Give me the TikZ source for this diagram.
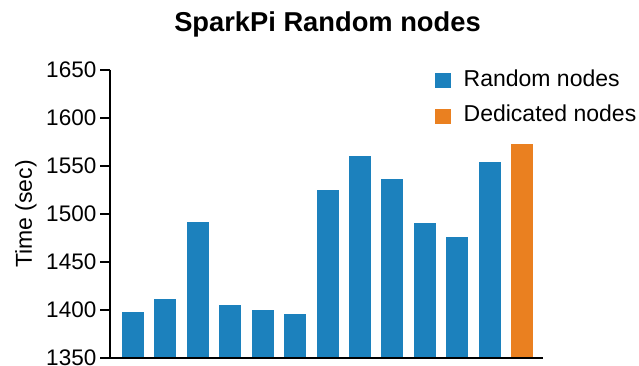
\documentclass[tikz,border=0pt]{standalone}
\usepackage{fontspec}
\setmainfont{Liberation Sans}
\definecolor{barblue}{RGB}{28,129,189}
\definecolor{barorange}{RGB}{234,128,32}
\begin{document}
\begin{tikzpicture}[x=1pt,y=-1pt,
  axisline/.style={line width=1.3pt,black},
  ticklabel/.style={anchor=east,inner sep=0pt,font=\fontsize{22.5}{25}\selectfont},
  labeltext/.style={inner sep=0pt,font=\fontsize{23}{26}\selectfont},
  titletext/.style={inner sep=0pt,font=\fontsize{27.3}{31}\selectfont\bfseries},
  bluebar/.style={fill=barblue,draw=none},
  orangebar/.style={fill=barorange,draw=none}]
\useasboundingbox (0,0) rectangle (639,366);
% title
\node[titletext,anchor=base] (title) at (327.5,31.7) {SparkPi Random nodes};
% bars
\foreach \v [count=\i from 0] in {1398,1411.5,1492,1405.5,1400,1396,1525,1560,1536,1491,1476,1554.5} {
  \fill[bluebar] ({122+32.42*\i},358) rectangle ({144+32.42*\i},{358-(\v-1350)*0.96});
}
\fill[orangebar] ({122+32.42*12},358) rectangle ({144+32.42*12},{358-(1573-1350)*0.96});
% axes
\coordinate (o) at (110,358);
\coordinate (ytop) at (110,70);
\coordinate (xend) at (543,358);
\draw[axisline] (ytop) -- (o) -- (xend);
\foreach \t [count=\k from 0] in {1350,1400,1450,1500,1550,1600,1650} {
  \draw[axisline] (100,{358-48*\k}) -- (110,{358-48*\k});
  \node[ticklabel] (t\k) at (96.5,{358-48*\k}) {\t};
}
% y label
\node[labeltext,rotate=90] (ylab) at (26,214) {Time (sec)};
% legend
\fill[bluebar] (435,73) rectangle (451,88);
\node[labeltext,anchor=base west] (l1) at (463.5,86.7) {Random nodes};
\fill[orangebar] (435,109) rectangle (451,124);
\node[labeltext,anchor=base west] (l2) at (463.5,121.7) {Dedicated nodes};
\end{tikzpicture}
\end{document}
